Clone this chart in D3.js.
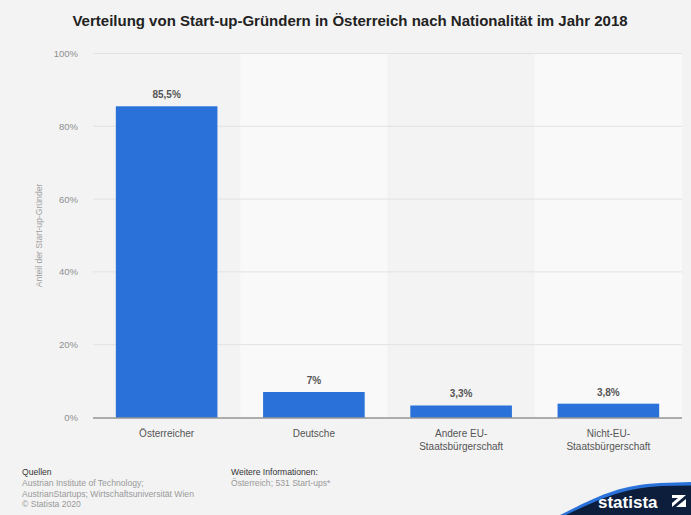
<!DOCTYPE html>
<html>
<head>
<meta charset="utf-8">
<script src="https://cdn.jsdelivr.net/npm/d3@7"></script>
<style>
  body { margin: 0; background: #f3f3f3; }
  svg { display: block; font-family: "Liberation Sans", Arial, sans-serif; }
</style>
</head>
<body>
<div id="chart"></div>
<script>
const width = 691, height = 515

// data
const categories = ["Österreicher", "Deutsche", "Andere EU-\nStaatsbürgerschaft", "Nicht-EU-\nStaatsbürgerschaft"]
const values = [85.5, 7, 3.3, 3.8]
const valueLabels = ["85,5%", "7%", "3,3%", "3,8%"]
const yTicks = [0, 20, 40, 60, 80, 100]

const margin = { top: 53.5, right: 9, bottom: 97.5, left: 93 }

const svg = d3.select("#chart").append("svg")
    .attr("width", width)
    .attr("height", height)

svg.append("rect").attr("width", width).attr("height", height).attr("fill", "#f3f3f3")

const x = d3.scaleBand()
    .domain(categories)
    .range([margin.left, width - margin.right])
    .paddingInner(0.31)
    .paddingOuter(0.155)

const y = d3.scaleLinear()
    .domain([0, 100])
    .range([height - margin.bottom, margin.top])

// alternating column bands
const step = x.step()
svg.append("g").selectAll("rect")
    .data(categories)
    .join("rect")
    .attr("x", d => x(d) - x.paddingOuter() * step)
    .attr("y", y(100))
    .attr("width", step)
    .attr("height", y(0) - y(100))
    .attr("fill", (d, i) => i % 2 ? "#f9f9f9" : "#f3f3f3")

// gridlines
svg.append("g").selectAll("line")
    .data(yTicks.filter(t => t > 0))
    .join("line")
    .attr("x1", margin.left)
    .attr("x2", width - margin.right)
    .attr("y1", d => y(d))
    .attr("y2", d => y(d))
    .attr("stroke", "#e2e2e2")
    .attr("stroke-width", 1)

// y tick labels
svg.append("g").selectAll("text")
    .data(yTicks)
    .join("text")
    .attr("x", 78)
    .attr("y", d => y(d) + 3.5)
    .attr("text-anchor", "end")
    .attr("font-size", 9.5)
    .attr("fill", "#8f8f8f")
    .text(d => d + "%")

// y axis title
svg.append("text")
    .attr("transform", `translate(42,${(y(0) + y(100)) / 2}) rotate(-90)`)
    .attr("text-anchor", "middle")
    .attr("font-size", 8.6)
    .attr("fill", "#a0a0a0")
    .text("Anteil der Start-up-Gründer")

// bars
svg.append("g").selectAll("rect")
    .data(values)
    .join("rect")
    .attr("x", (d, i) => x(categories[i]))
    .attr("y", d => y(d))
    .attr("width", x.bandwidth())
    .attr("height", d => y(0) - y(d))
    .attr("fill", "#2a72d9")

// value labels
svg.append("g").selectAll("text")
    .data(values)
    .join("text")
    .attr("x", (d, i) => x(categories[i]) + x.bandwidth() / 2)
    .attr("y", d => y(d) - 8)
    .attr("text-anchor", "middle")
    .attr("font-size", 10)
    .attr("font-weight", "bold")
    .attr("fill", "#555")
    .text((d, i) => valueLabels[i])

// baseline
svg.append("line")
    .attr("x1", margin.left)
    .attr("x2", width - margin.right)
    .attr("y1", y(0) + 0.5)
    .attr("y2", y(0) + 0.5)
    .attr("stroke", "#666")
    .attr("stroke-width", 1)

// category labels
const catLabels = svg.append("g").selectAll("text")
    .data(categories)
    .join("text")
    .attr("x", d => x(d) + x.bandwidth() / 2)
    .attr("y", 437)
    .attr("text-anchor", "middle")
    .attr("font-size", 10)
    .attr("fill", "#555")
catLabels.each(function(d) {
    const lines = d.split("\n")
    lines.forEach((l, i) => {
        d3.select(this).append("tspan")
            .attr("x", x(d) + x.bandwidth() / 2)
            .attr("dy", i ? 13 : 0)
            .text(l)
    })
})

// title
svg.append("text")
    .attr("x", 350)
    .attr("y", 26)
    .attr("text-anchor", "middle")
    .attr("font-size", 15)
    .attr("font-weight", "bold")
    .attr("fill", "#222")
    .text("Verteilung von Start-up-Gründern in Österreich nach Nationalität im Jahr 2018")

// footer
const footer = svg.append("g").attr("font-size", 8.6)
footer.append("text").attr("x", 22).attr("y", 475).attr("fill", "#333").text("Quellen")
const srcLines = ["Austrian Institute of Technology;", "AustrianStartups; Wirtschaftsuniversität Wien", "© Statista 2020"]
footer.selectAll(".src").data(srcLines).join("text")
    .attr("x", 22).attr("y", (d, i) => 486 + i * 10.5)
    .attr("fill", "#999").text(d => d)
footer.append("text").attr("x", 231).attr("y", 475).attr("fill", "#333").text("Weitere Informationen:")
footer.append("text").attr("x", 231).attr("y", 486).attr("fill", "#999").text("Österreich; 531 Start-ups*")

// statista logo
const logo = svg.append("g")
logo.append("path")
    .attr("d", `M560,515 C600,495 620,485 660,483 L${width},482 L${width},515 Z`)
    .attr("fill", "#2a72d9")
logo.append("path")
    .attr("d", `M566,515 C604,497 624,488 662,486 L${width},485.5 L${width},515 Z`)
    .attr("fill", "#0d1e3d")
logo.append("text")
    .attr("x", 598)
    .attr("y", 508)
    .attr("font-size", 17)
    .attr("font-weight", "bold")
    .attr("fill", "#fff")
    .text("statista")
logo.append("rect")
    .attr("x", 672).attr("y", 495).attr("width", 14).attr("height", 12)
    .attr("fill", "#fff")
logo.append("path")
    .attr("d", "M672,507 L686,495 L686,499 L676,507 Z M672,503 L678,498 L672,498 Z")
    .attr("fill", "#0d1e3d")
</script>
</body>
</html>
